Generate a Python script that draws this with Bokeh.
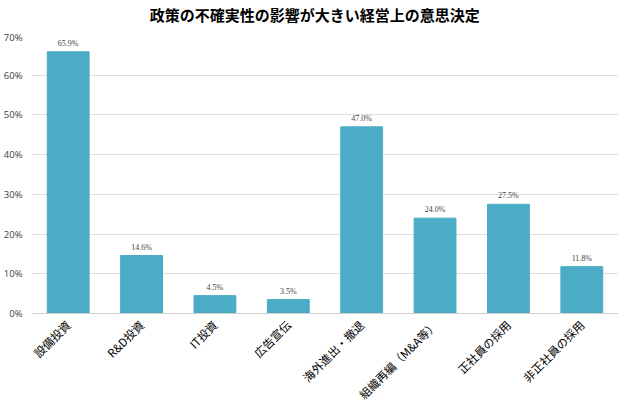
from bokeh.plotting import figure
from bokeh.layouts import column
from bokeh.models import ColumnDataSource, NumeralTickFormatter, FixedTicker, LabelSet, Range1d
from bokeh.core.properties import value
from bokeh.embed import file_html
from bokeh.resources import INLINE
import math

categories = ["設備投資", "R&D投資", "IT投資", "広告宣伝", "海外進出・撤退", "組織再編（M&A等）", "正社員の採用", "非正社員の採用"]
values = [65.9, 14.6, 4.5, 3.5, 47.0, 24.0, 27.5, 11.8]
y_ticks = [0, 10, 20, 30, 40, 50, 60, 70]
title_text = "政策の不確実性の影響が大きい経営上の意思決定"

FONT = "Noto Sans CJK JP"
NUMFONT = "Open Sans"

# title strip
t = figure(width=611, height=30, x_range=Range1d(0, 611), y_range=Range1d(0, 30),
           output_backend="svg", toolbar_location=None, min_border=0)
t.axis.visible = False
t.grid.grid_line_color = None
t.outline_line_color = None
t.text(x=[299], y=[16], text=[title_text], text_align="center", text_baseline="middle",
       text_font=value(FONT), text_font_size="15px", text_font_style="bold", text_color="#000000")

src = ColumnDataSource(dict(cat=categories, val=[v / 100 for v in values],
                            lab=["%.1f%%" % v for v in values]))

p = figure(x_range=categories, y_range=Range1d(0, 0.70),
           frame_width=587, frame_height=278,
           output_backend="svg", toolbar_location=None,
           min_border_left=23, min_border_right=1, min_border_top=5, min_border_bottom=4)

p.vbar(x="cat", top="val", width=0.57, source=src, fill_color="#4BACC6", line_color="#4BACC6")

labels = LabelSet(x="cat", y="val", text="lab", source=src, text_align="center",
                  text_baseline="bottom", y_offset=4, text_font_size="8px",
                  text_color="#404040", text_font=NUMFONT)
p.add_layout(labels)

p.outline_line_color = None
p.xgrid.grid_line_color = None
p.ygrid.grid_line_color = "#dedede"
p.ygrid.grid_line_width = 1
p.yaxis.ticker = FixedTicker(ticks=[tk / 100 for tk in y_ticks])
p.yaxis.formatter = NumeralTickFormatter(format="0%")
p.yaxis.axis_line_color = None
p.yaxis.major_tick_line_color = None
p.yaxis.minor_tick_line_color = None
p.yaxis.major_label_text_font_size = "9.5px"
p.yaxis.major_label_text_color = "#404040"
p.yaxis.major_label_text_font = NUMFONT
p.yaxis.major_label_standoff = 3

p.xaxis.axis_line_color = "#d0d0d0"
p.xaxis.major_tick_line_color = None
p.xaxis.minor_tick_line_color = None
p.xaxis.major_label_orientation = math.pi / 4
p.xaxis.major_label_text_font_size = "11.5px"
p.xaxis.major_label_text_color = "#000000"
p.xaxis.major_label_text_font = FONT
p.xaxis.major_label_standoff = 3

layout = column(t, p, spacing=0)
open("out.html", "w").write(file_html(layout, INLINE))
